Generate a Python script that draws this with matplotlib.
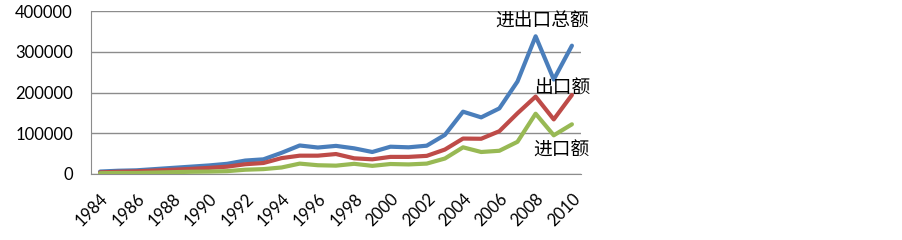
import numpy as np
import matplotlib.pyplot as plt

plt.rcParams['font.family'] = ['Lato', 'Noto Sans CJK SC', 'DejaVu Sans']

# 年份
anios = list(range(1984, 2011))

# 进出口总额
total = [6000, 8000, 9000, 12000, 15000, 18000, 21000, 25000, 33000, 36000,
         52000, 70000, 65000, 69000, 63000, 54000, 67000, 65500, 69500, 96000,
         153000, 139000, 161000, 227000, 338000, 232000, 315000]
# 出口额
exportacion = [4000, 5500, 6500, 8500, 10500, 12500, 15000, 18000, 24000, 27000,
               39000, 45000, 45000, 49000, 38500, 36000, 42000, 42000, 44500, 60000,
               87000, 86500, 105000, 149000, 190000, 134000, 194000]
# 进口额
importacion = [2000, 2500, 2500, 3500, 4500, 5500, 6000, 7000, 10500, 12000,
               16000, 25500, 21500, 20500, 25000, 20000, 24500, 23500, 25500, 38000,
               65500, 54000, 57000, 79000, 148000, 95000, 122000]

etiquetas = ['进出口总额', '出口额', '进口额']

fig = plt.figure(figsize=(9.03, 2.4), dpi=100)
ax = fig.add_axes([0.1008, 0.275, 0.5426, 0.679])

x = np.arange(len(anios))
ax.plot(x, total, color='#4A7EBB', lw=3, solid_capstyle='round', zorder=3)
ax.plot(x, exportacion, color='#BE4B48', lw=3, solid_capstyle='round', zorder=3)
ax.plot(x, importacion, color='#98B954', lw=3, solid_capstyle='round', zorder=3)

ax.set_xlim(-0.5, len(anios) - 0.5)
ax.set_ylim(0, 400000)
ax.set_yticks([0, 100000, 200000, 300000, 400000])
ax.set_yticklabels(['0', '100000', '200000', '300000', '400000'])
ax.set_xticks(x[::2])
ax.set_xticklabels([str(a) for a in anios[::2]], rotation=45, ha='right',
                   rotation_mode='anchor')

ax.tick_params(axis='y', length=0, pad=13, labelsize=12)
ax.tick_params(axis='x', length=0, pad=12, labelsize=12)
ax.grid(axis='y', color='#8C8C8C', lw=1)
ax.set_axisbelow(True)
for s in ['top', 'right']:
    ax.spines[s].set_visible(False)
ax.spines['left'].set_color('#8C8C8C')
ax.spines['bottom'].set_color('#8C8C8C')

fuente = ['Noto Sans CJK SC', 'DejaVu Sans']
ax.text(21.8, 375000, etiquetas[0], fontsize=13.5, va='center', family=fuente, clip_on=False)
ax.text(23.9, 213500, etiquetas[1], fontsize=13.5, va='center', family=fuente, clip_on=False)
ax.text(23.9, 59000, etiquetas[2], fontsize=13.5, va='center', family=fuente, clip_on=False)

fig.savefig('out.png', dpi=100)
